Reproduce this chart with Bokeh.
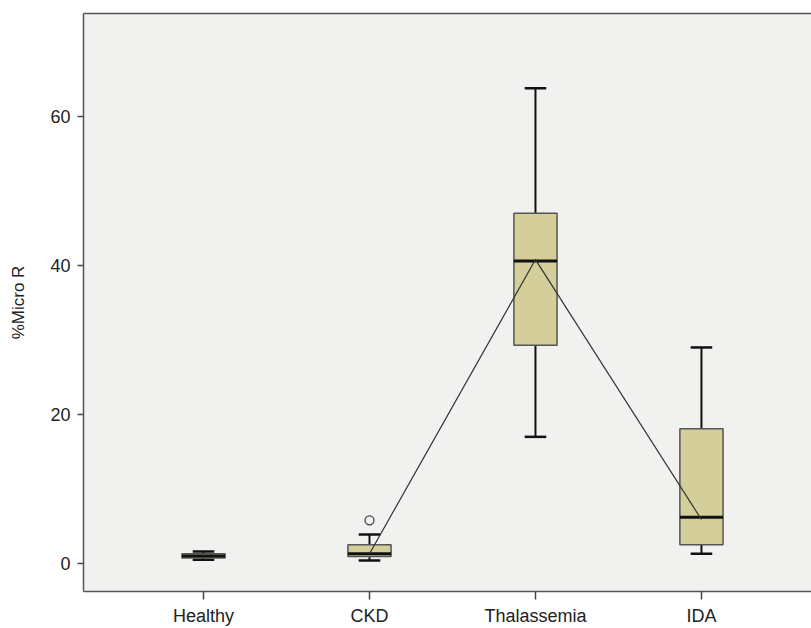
from bokeh.plotting import figure
from bokeh.models import FixedTicker, LinearAxis, ColumnDataSource, Range1d
from bokeh.embed import file_html
from bokeh.resources import INLINE

categories = ["Healthy", "CKD", "Thalassemia", "IDA"]
lower_whisker = [0.5, 0.4, 17.0, 1.3]
q1 = [0.75, 0.95, 29.3, 2.5]
median = [1.0, 1.3, 40.6, 6.2]
q3 = [1.3, 2.5, 47.0, 18.1]
upper_whisker = [1.6, 3.9, 63.8, 29.0]
outlier_group = ["CKD"]
outlier_value = [5.8]
trend_groups = ["CKD", "Thalassemia", "IDA"]
trend_values = [1.3, 40.8, 5.9]
y_ticks = [0, 20, 40, 60]

xpos = {c: i + 1 for i, c in enumerate(categories)}
xs = [xpos[c] for c in categories]
box_w = 0.26
cap_w = 0.13

src = ColumnDataSource(dict(
    x=xs, lw=lower_whisker, q1=q1, med=median, q3=q3, uw=upper_whisker,
    cl=[x - cap_w / 2 for x in xs], cr=[x + cap_w / 2 for x in xs],
    ml=[x - box_w / 2 for x in xs], mr=[x + box_w / 2 for x in xs],
))

p = figure(width=811, height=628, output_backend="svg", toolbar_location=None,
           x_range=Range1d(0.277, 4.663), y_range=Range1d(-3.76, 73.83),
           min_border_left=83, min_border_right=0, min_border_top=13,
           min_border_bottom=36)
p.background_fill_color = "#f1f1ef"
p.border_fill_color = "white"
p.outline_line_color = None
p.grid.grid_line_color = None

FONT = "Liberation Sans"

# whiskers
p.segment(x0="x", y0="q3", x1="x", y1="uw", source=src, line_color="#111111", line_width=2)
p.segment(x0="x", y0="q1", x1="x", y1="lw", source=src, line_color="#111111", line_width=2)
p.segment(x0="cl", y0="uw", x1="cr", y1="uw", source=src, line_color="#111111", line_width=2.5)
p.segment(x0="cl", y0="lw", x1="cr", y1="lw", source=src, line_color="#111111", line_width=2.5)
# boxes
p.vbar(x="x", width=box_w, top="q3", bottom="q1", source=src,
       fill_color="#d3ce9a", line_color="#555555", line_width=1.5)
# medians
p.segment(x0="ml", y0="med", x1="mr", y1="med", source=src, line_color="#111111", line_width=3)

# interpolation line through medians
p.line([xpos[c] for c in trend_groups], trend_values, line_color="#333333", line_width=1.2)

# outlier
p.scatter([xpos[c] for c in outlier_group], outlier_value, marker="circle", size=9,
          fill_color=None, line_color="#444444", line_width=1.3)

# axes
p.xaxis.ticker = FixedTicker(ticks=xs)
p.xaxis.major_label_overrides = {x: c for x, c in zip(xs, categories)}
p.yaxis.ticker = FixedTicker(ticks=y_ticks)
for ax in (p.xaxis[0], p.yaxis[0]):
    ax.axis_line_color = "#555555"
    ax.axis_line_width = 1.5
    ax.major_tick_line_color = "#444444"
    ax.major_tick_line_width = 1.5
    ax.minor_tick_line_color = None
    ax.major_tick_in = 0
    ax.major_label_text_font = FONT
    ax.major_label_text_font_size = "18px"
    ax.major_label_text_color = "#222222"
p.xaxis.major_tick_out = 8
p.yaxis.major_tick_out = 6
p.xaxis.major_label_standoff = 6
p.yaxis.major_label_standoff = 7
p.yaxis.axis_label = "%Micro R"
p.yaxis.axis_label_text_font = FONT
p.yaxis.axis_label_text_font_style = "normal"
p.yaxis.axis_label_text_font_size = "17px"
p.yaxis.axis_label_text_color = "#222222"
p.yaxis.axis_label_standoff = 19

top_axis = LinearAxis(ticker=FixedTicker(ticks=[]), major_label_text_font_size="0px",
                      axis_line_color="#555555", axis_line_width=1.5,
                      major_tick_line_color=None, minor_tick_line_color=None)
p.add_layout(top_axis, "above")

open("out.html", "w").write(file_html(p, INLINE))
